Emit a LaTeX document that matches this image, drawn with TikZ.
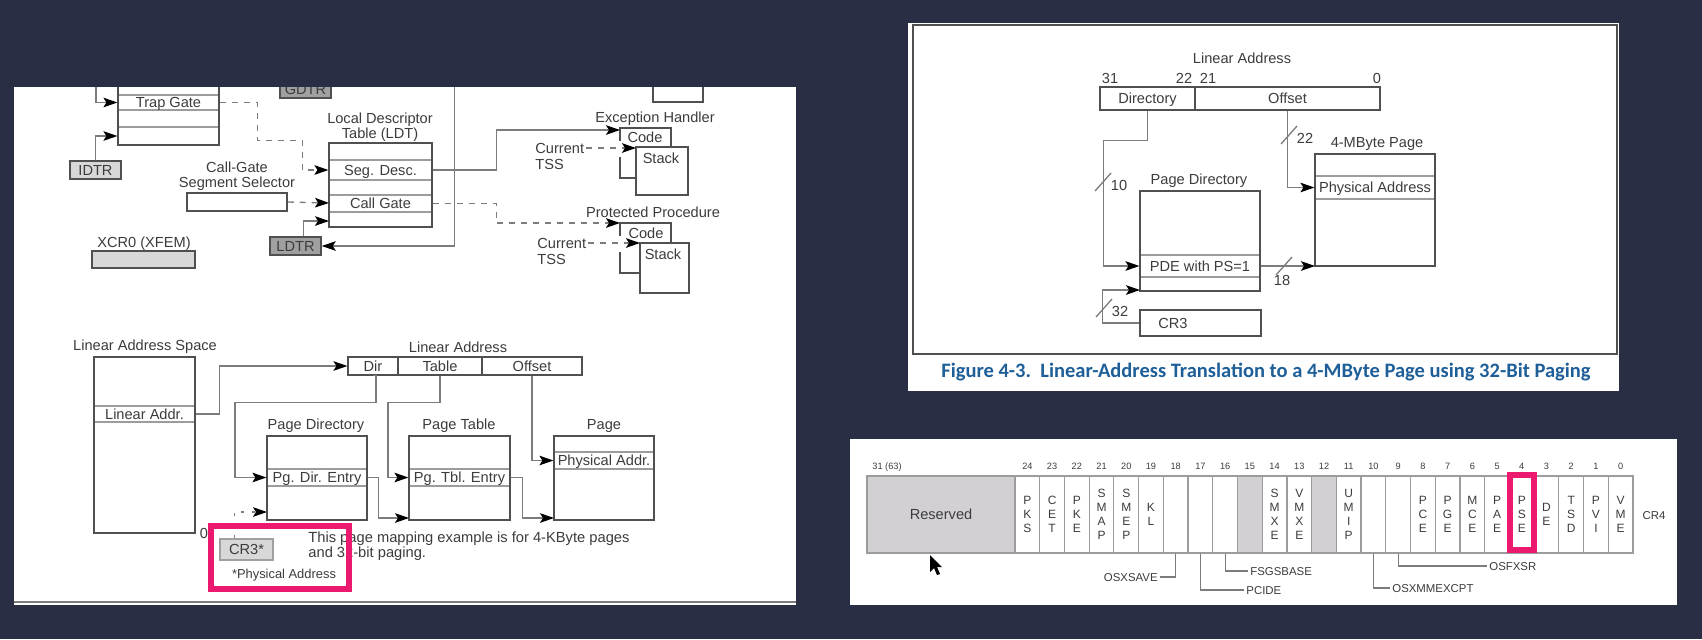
\documentclass[tikz,border=0pt]{standalone}
\usepackage{fontspec}
\setmainfont{Liberation Sans}
\newfontfamily\capfont{Carlito}
\usetikzlibrary{arrows.meta}
\definecolor{slidebg}{HTML}{2A2E45}
\definecolor{inkgray}{HTML}{3C3C3C}
\definecolor{framegray}{HTML}{505050}
\definecolor{rowgray}{HTML}{9C9C9C}
\definecolor{conngray}{HTML}{7C7C7C}
\definecolor{cellgray}{HTML}{D3D0D4}
\definecolor{regdark}{HTML}{A0A0A0}
\definecolor{reglight}{HTML}{D8D8D8}
\definecolor{markpink}{HTML}{EC1A6F}
\definecolor{capblue}{HTML}{1F5F99}
\tikzset{
  txt/.style={text=inkgray,inner sep=1pt,font=\fontsize{7.3pt}{7.6pt}\selectfont,align=center},
  lbl/.style={txt,text height=5.3pt,text depth=0pt},
  small/.style={lbl,text height=4.1pt,font=\fontsize{5.7pt}{7pt}\selectfont},
  tblframe/.style 2 args={draw=framegray,line width=.75pt,inner sep=0pt,minimum width=#1*.5pt,minimum height=#2*.5pt},
  rowbox/.style 2 args={draw=rowgray,line width=.6pt,text=inkgray,inner sep=0pt,text height=5.3pt,text depth=0pt,font=\fontsize{7.3pt}{7.6pt}\selectfont,minimum width=#1*.5pt,minimum height=#2*.5pt},
  regbox/.style={draw=framegray,line width=.75pt},
  pinkbox/.style 2 args={draw=markpink,line width=3.2pt,inner sep=0pt,minimum width=#1*.5pt,minimum height=#2*.5pt},
  panel/.style 2 args={fill=white,inner sep=0pt,minimum width=#1*.5pt,minimum height=#2*.5pt},
  conn/.style={draw=conngray,line width=.65pt},
  arr/.style={conn,-{Stealth[length=7pt,width=4.8pt,inset=1.5pt,black]}},
  dashconn/.style={arr,dash pattern=on 3pt off 3pt},
  leader/.style={draw=conngray,line width=.55pt}
}
\begin{document}
\begin{tikzpicture}[x=.5pt,y=-.5pt]
\fill[slidebg] (0,0) rectangle (1702,639);
\useasboundingbox (0,0) rectangle (1702,639);

% panels
\node (leftpanel) at (405,346) [panel={782}{518}] {};
\node (rightpanel) at (1263.5,207) [panel={711}{368}] {};
\node (figframe) at (1265,189.5) [tblframe={704}{329}] {};
\node (crpanel) at (1263.5,522) [panel={827}{166}] {};
\draw[conngray,line width=1pt] ([yshift=1.5pt]leftpanel.south west) -- ([yshift=1.5pt]leftpanel.south east);

% left figure, upper part
\begin{scope}
\clip (14,87) rectangle (796,605);
\node (trapgate) at (168.5,102.5) [rowbox={101}{15}] {Trap Gate};
\node (idtlast) at (168.5,136) [rowbox={101}{18}] {};
\node (idtframe) at (168.5,107.5) [tblframe={101}{75}] {};
\node (idtr) at (95.5,170) [regbox,fill=reglight,inner sep=0pt,minimum width=25.5pt,minimum height=9pt,lbl] {IDTR};
\node (gdtr) at (305.5,89) [regbox,fill=regdark,inner sep=0pt,minimum width=25.5pt,minimum height=9pt,lbl] {GDTR};
\node (ldtr) at (295.5,246) [regbox,fill=regdark,inner sep=0pt,minimum width=25.5pt,minimum height=9pt,lbl] {LDTR};
\node (ldttitle) at (380,127) [txt] {Local Descriptor\\Table (LDT)};
\node (segdesc) at (380.5,170) [rowbox={103}{20}] {Seg. Desc.};
\node (callgate) at (380.5,203.5) [rowbox={103}{17}] {Call Gate};
\node (ldtframe) at (380.5,185) [tblframe={103}{84}] {};
\node (selname) at (237,176.5) [txt] {Call-Gate\\Segment Selector};
\node (selbox) at (237,202) [regbox,minimum width=50pt,minimum height=9pt,inner sep=0pt] {};
\node (xcrname) at (144,242) [lbl] {XCR0 (XFEM)};
\node (xcrbox) at (143.5,259.5) [regbox,fill=reglight,minimum width=51.5pt,minimum height=8.5pt,inner sep=0pt] {};
\node (topbox) at (678,90) [regbox,minimum width=25pt,minimum height=12pt,inner sep=0pt] {};

\coordinate (idttopline) at (96,70);
\coordinate (ldttop) at (454.5,70);
\coordinate (ldtin) at (329,221);
\coordinate (selin) at (329,203);
\draw[arr] (idttopline) |- (trapgate.west);
\draw[arr] (idtr.north) |- (idtlast.west);
\draw[arr] (ldttop) |- (ldtr.east);
\draw[arr] ([xshift=4pt]ldtr.north) |- (ldtin);
\draw[dashconn] (trapgate.east) -- ++(38,0) -- ++(0,38) -- ++(45,0) |- (segdesc.west);
\draw[dashconn] (selbox.east) -- (selin);

\node (exname) at (655,117) [lbl] {Exception Handler};
\node (excode) at (645.5,153) [regbox,fill=white,minimum width=25.5pt,minimum height=25pt,inner sep=0pt] {};
\node (exstack) at (662,171) [regbox,fill=white,minimum width=26pt,minimum height=24pt,inner sep=0pt] {};
\node (excodetxt) at (645,137) [lbl] {Code};
\node (exstacktxt) at (661,158) [lbl] {Stack};
\node (extss) at (533,156.5) [txt,align=left,anchor=west] {Current\\TSS};
\coordinate (exin) at (620,130);
\coordinate (exstackin) at (636,148);
\draw[white,line width=1.5pt] ([yshift=-7pt]excode.north west) -- ([yshift=-15pt]excode.north west);
\draw[arr] (segdesc.east) -- ++(64,0) |- (exin);
\draw[dashconn] (extss.east |- exstackin) -- (exstackin);

\node (ppname) at (653,212) [lbl] {Protected Procedure};
\node (ppcode) at (645.5,248) [regbox,fill=white,minimum width=25.5pt,minimum height=25pt,inner sep=0pt] {};
\node (ppstack) at (664.5,268) [regbox,fill=white,minimum width=24.5pt,minimum height=25pt,inner sep=0pt] {};
\node (ppcodetxt) at (646,233) [lbl] {Code};
\node (ppstacktxt) at (663,254) [lbl] {Stack};
\node (pptss) at (535,251.5) [txt,align=left,anchor=west] {Current\\TSS};
\coordinate (ppin) at (620,223);
\coordinate (ppstackin) at (640,243);
\draw[white,line width=1.5pt] ([yshift=-7pt]ppcode.north west) -- ([yshift=-15pt]ppcode.north west);
\draw[dashconn] (callgate.east) -- ++(64,0) |- (ppin);
\draw[dashconn] (pptss.east |- ppstackin) -- (ppstackin);
\end{scope}

% left figure, lower part
\node (spacename) at (145,345) [lbl] {Linear Address Space};
\node (linaddr) at (144.5,414) [rowbox={101}{16}] {Linear Addr.};
\node (spaceframe) at (144.5,445) [tblframe={101}{176}] {};
\node (zerotxt) at (204,533) [lbl] {0};
\node (laname) at (458,347) [lbl] {Linear Address};
\node (dirfield) at (373,366) [rowbox={50}{18},draw=framegray] {Dir};
\node (tablefield) at (440,366) [rowbox={84}{18},draw=framegray] {Table};
\node (offsetfield) at (532,366) [rowbox={100}{18},draw=framegray] {Offset};
\node (pdname) at (316,424) [lbl] {Page Directory};
\node (pdentry) at (317,477.5) [rowbox={100}{17}] {Pg. Dir. Entry};
\node (pdframe) at (317,478) [tblframe={100}{84}] {};
\node (ptname) at (459,424) [lbl] {Page Table};
\node (ptentry) at (459.5,477.5) [rowbox={101}{17}] {Pg. Tbl. Entry};
\node (ptframe) at (459.5,478) [tblframe={101}{84}] {};
\node (pgname) at (604,424) [lbl] {Page};
\node (physaddr) at (604,460.5) [rowbox={100}{17}] {Physical Addr.};
\node (pgframe) at (604,478) [tblframe={100}{84}] {};
\node (cr3reg) at (246.5,549.5) [regbox,draw=regdark,fill=reglight,minimum width=26.5pt,minimum height=10.5pt,inner sep=0pt,lbl] {CR3*};
\node (cr3note) at (284,574) [small,text height=4.7pt,font=\fontsize{6.45pt}{7pt}\selectfont] {*Physical Address};
\node (examplenote) at (306,546.5) [txt,align=left,anchor=west,font=\fontsize{7.35pt}{7.5pt}\selectfont] {This page mapping example is for 4-KByte pages\\and 32-bit paging.};

\coordinate (pdin) at (267,512);
\coordinate (ptin) at (409,518);
\coordinate (pgin) at (554,518);
\draw[arr] (linaddr.east) -- ++(24,0) |- (dirfield.west);
\draw[arr] (dirfield.south) -- ++(3,0) -- ++(0,27) -| ++(-141,0) |- (pdentry.west);
\draw[arr] (tablefield.south) -- ++(0,27) -- ++(-52,0) |- (ptentry.west);
\draw[arr] (offsetfield.south) |- (physaddr.west);
\draw[arr] (pdentry.east) -- ++(11,0) |- (ptin);
\draw[arr] (ptentry.east) -- ++(12,0) |- (pgin);
\draw[dashconn,dash pattern=on 1.5pt off 4pt] ([xshift=7.5pt]cr3reg.north west) |- (pdin);

\node (cr3mark) at (280,557.5) [pinkbox={138}{63}] {};

% right figure
\node (lanametop) at (1242,58) [lbl] {Linear Address};
\node (b31) at (1110,78) [lbl] {31};
\node (b22) at (1184,78) [lbl] {22};
\node (b21) at (1208,78) [lbl] {21};
\node (b0) at (1377,78) [lbl] {0};
\node (dirbits) at (1147.5,98.5) [rowbox={95}{23},draw=framegray] {Directory};
\node (offbits) at (1287.5,98.5) [rowbox={185}{23},draw=framegray] {Offset};
\node (pd4name) at (1199,179) [lbl] {Page Directory};
\node (pde) at (1200,266) [rowbox={120}{22}] {PDE with PS=1};
\node (pd4frame) at (1200,241) [tblframe={120}{100}] {};
\node (pg4name) at (1377,142) [lbl] {4-MByte Page};
\node (phys4) at (1375,187.5) [rowbox={120}{23}] {Physical Address};
\node (pg4frame) at (1375,210) [tblframe={120}{112}] {};
\node (cr3box) at (1200.5,323) [tblframe={121}{26}] {};
\node (cr3txt) at (1173,323) [lbl] {CR3};
\node (n10) at (1119,185) [lbl] {10};
\node (n22) at (1305,138) [lbl] {22};
\node (n18) at (1282,280) [lbl] {18};
\node (n32) at (1120,311) [lbl] {32};
\coordinate (pd4in) at (1140,290);
\coordinate (pg4in) at (1315,266);
\coordinate (tick10) at (1103,182);
\coordinate (tick22) at (1289,135);
\coordinate (tick18) at (1284,266);
\coordinate (tick32) at (1104,308);
\draw[arr] (dirbits.south) -- ++(0,30) -- ++(-44,0) |- (pde.west);
\draw[arr] (offbits.south) |- (phys4.west);
\draw[arr] (pde.east) -- (pg4in);
\draw[arr] (cr3box.west) -- ++(-37,0) |- (pd4in);
\foreach \tick in {tick10,tick22,tick18,tick32}
  \draw[conn] ([shift={(-8,9)}]\tick) -- ([shift={(8,-9)}]\tick);
\node (caption) at (941,372) [anchor=west,inner sep=0pt,text=capblue,font=\capfont\bfseries\fontsize{10.25pt}{11pt}\selectfont] {Figure 4-3.\ \ Linear-Address Translation to a 4-MByte Page using 32-Bit Paging};

% CR4 register
\node (reserved) at (941,514.5) [rowbox={148}{77},fill=cellgray] {Reserved};
\node (topnum) at (887,465) [small,font=\fontsize{4.6pt}{5pt}\selectfont] {31 (63)};
\foreach \bit/\txt/\cellfill in {24/{P\\K\\S}/white,23/{C\\E\\T}/white,22/{P\\K\\E}/white,21/{S\\M\\A\\P}/white,20/{S\\M\\E\\P}/white,19/{K\\L}/white,18/{}/white,17/{}/white,16/{}/white,15/{}/cellgray,14/{S\\M\\X\\E}/white,13/{V\\M\\X\\E}/white,12/{}/cellgray,11/{U\\M\\I\\P}/white,10/{}/white,9/{}/white,8/{P\\C\\E}/white,7/{P\\G\\E}/white,6/{M\\C\\E}/white,5/{P\\A\\E}/white,4/{P\\S\\E}/white,3/{D\\E}/white,2/{T\\S\\D}/white,1/{P\\V\\I}/white,0/{V\\M\\E}/white}{
  \pgfmathsetmacro\cellx{1015+24.72*(24-\bit)+12.36}
  \node (cell\bit) at (\cellx,514.5) [draw=rowgray,line width=.6pt,text=inkgray,inner sep=0pt,minimum width=12.36pt,minimum height=38.5pt,fill=\cellfill,align=center,font=\fontsize{6pt}{7pt}\selectfont] {\txt};
  \node (num\bit) at (\cellx,465) [small,font=\fontsize{4.6pt}{5pt}\selectfont] {\bit};
}
\node (cr4txt) at (1654,515) [small] {CR4};
\node (osxsave) at (1160,577) [small,anchor=east] {OSXSAVE};
\node (pcide) at (1244,590) [small,anchor=west] {PCIDE};
\node (fsgsbase) at (1248,571) [small,anchor=west] {FSGSBASE};
\node (osxmm) at (1390,588) [small,anchor=west] {OSXMMEXCPT};
\node (osfxsr) at (1487,566) [small,anchor=west] {OSFXSR};
\draw[leader] (cell18.south) |- (osxsave.east);
\draw[leader] (cell17.south) |- (pcide.west);
\draw[leader] (cell16.south) |- (fsgsbase.west);
\draw[leader] (cell10.south) |- (osxmm.west);
\draw[leader] (cell9.south) |- (osfxsr.west);
\node (psemark) at (1522,512.5) [pinkbox={24}{75}] {};
\fill[black] (930,555) -- ++(0,17) -- ++(4,-4) -- ++(3,7) -- ++(3,-1) -- ++(-3,-7) -- ++(5,0) -- cycle;
\end{tikzpicture}
\end{document}
